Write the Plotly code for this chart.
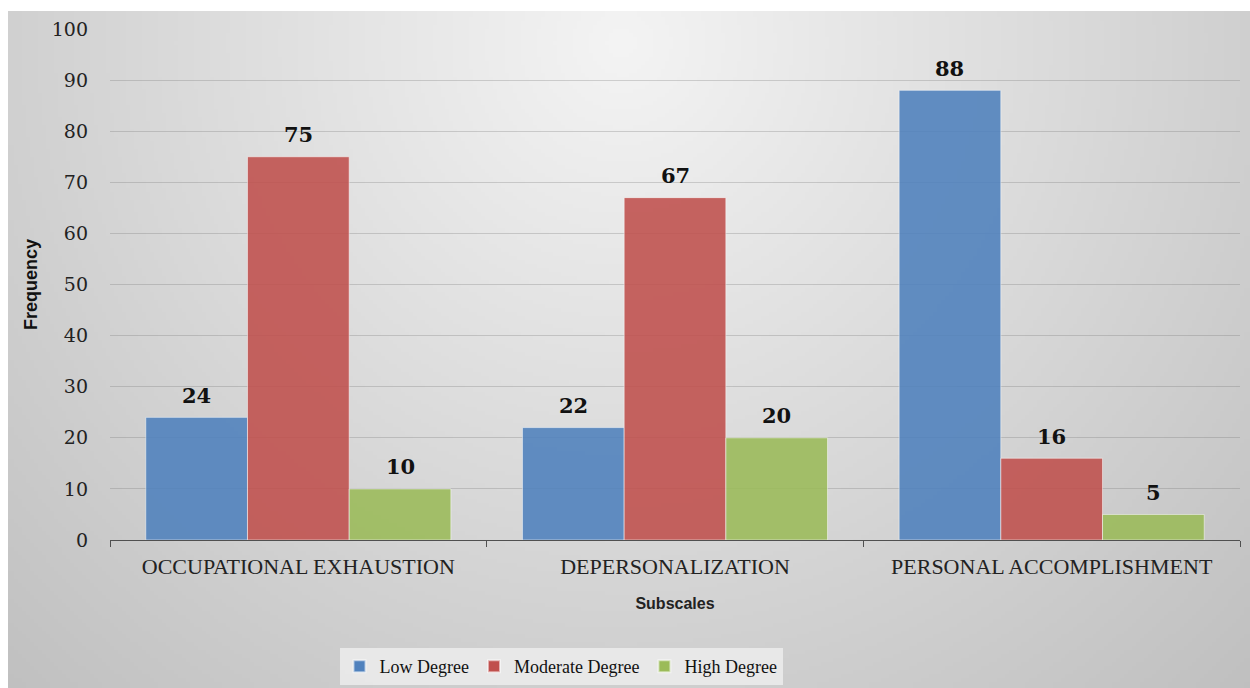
import zlib, struct, base64
import numpy as np
import plotly.graph_objects as go

categories = ["OCCUPATIONAL EXHAUSTION", "DEPERSONALIZATION", "PERSONAL ACCOMPLISHMENT"]
series_names = ["Low Degree", "Moderate Degree", "High Degree"]
low_degree = [24, 22, 88]
moderate_degree = [75, 67, 16]
high_degree = [10, 20, 5]
y_ticks = [0, 10, 20, 30, 40, 50, 60, 70, 80, 90, 100]

series_values = [low_degree, moderate_degree, high_degree]
colors = ["#4f81bd", "#c0504d", "#9bbb59"]

W, H = 1250, 688
L, R, T, B = 110, 10, 29, 148
PW, PH = W - L - R, H - T - B
BARGAP = 0.19


def gradient_png(w, h, x0, y0, sx, sy):
    yy, xx = np.mgrid[0:h, 0:w].astype(float)
    px = xx * sx
    py = yy * sy
    d = np.sqrt((px - x0) ** 2 + (py - y0) ** 2)
    c = np.clip(244 - 0.058 * d, 0, 255).astype(np.uint8)
    raw = b"".join(b"\x00" + bytes(np.repeat(row, 3)) for row in c)

    def chunk(tag, data):
        return struct.pack(">I", len(data)) + tag + data + struct.pack(">I", zlib.crc32(tag + data) & 0xffffffff)

    png = b"\x89PNG\r\n\x1a\n" + chunk(b"IHDR", struct.pack(">IIBBBBB", w, h, 8, 2, 0, 0, 0))
    png += chunk(b"IDAT", zlib.compress(raw, 9)) + chunk(b"IEND", b"")
    return "data:image/png;base64," + base64.b64encode(png).decode()


bg_x0, bg_y0 = 8, 11
bg_w, bg_h = W - bg_x0, H - bg_y0
img_w, img_h = 311, 170
bg_src = gradient_png(img_w, img_h, 612, 30, bg_w / img_w, bg_h / img_h)

fig = go.Figure()
for name, vals, col in zip(series_names, series_values, colors):
    fig.add_trace(go.Bar(
        x=categories, y=vals, name=name,
        marker=dict(color=col, opacity=0.88, line=dict(color="rgba(255,255,255,0.55)", width=1)),
    ))

bar_px = PW / len(categories) * (1 - BARGAP) / len(series_names)
for i, vals in enumerate(series_values):
    for cat, v in zip(categories, vals):
        fig.add_annotation(
            x=cat, y=v, text="<b>%d</b>" % v, showarrow=False,
            xshift=(i - 1) * bar_px, yshift=22, yanchor="middle",
            font=dict(family="DejaVu Serif", size=21, color="#111111"),
        )

fig.add_layout_image(
    source=bg_src, xref="paper", yref="paper",
    x=(bg_x0 - L) / PW, y=(H - B - bg_y0) / PH,
    sizex=bg_w / PW, sizey=bg_h / PH,
    xanchor="left", yanchor="top", sizing="stretch", layer="below",
)

fig.update_layout(
    width=W, height=H,
    margin=dict(l=L, r=R, t=T, b=B, pad=0, autoexpand=False),
    paper_bgcolor="white", plot_bgcolor="rgba(0,0,0,0)",
    barmode="group", bargap=BARGAP, bargroupgap=0.0,
    showlegend=True,
    legend=dict(
        orientation="h", xref="container", yref="container",
        x=561 / W, xanchor="center",
        y=(H - 648) / H, yanchor="top",
        bgcolor="rgba(236,236,236,0.85)",
        font=dict(family="Liberation Serif", size=18, color="#111111"),
        itemsizing="constant", traceorder="normal",
    ),
    xaxis=dict(
        showline=True, linecolor="#505050", linewidth=1.3,
        ticks="outside", tickson="boundaries", ticklen=6, tickcolor="#505050", tickwidth=1.3,
        tickfont=dict(family="Liberation Serif", size=22, color="#222222"),
        ticklabelstandoff=6,
        showgrid=False, automargin=False,
        title=dict(text="<b>Subscales</b>", font=dict(family="Liberation Sans", size=16, color="#222222"), standoff=20),
    ),
    yaxis=dict(
        range=[0, 100], tickvals=y_ticks, showline=False, ticks="",
        showgrid=True, gridcolor="rgba(110,110,110,0.28)", gridwidth=1.2,
        zeroline=False, automargin=False,
        tickfont=dict(family="DejaVu Serif", size=19, color="#222222"),
        ticklabelstandoff=21,
        title=dict(text="<b>Frequency</b>", font=dict(family="Liberation Sans", size=18, color="#111111"), standoff=9),
    ),
)

fig.write_html("out.html")
